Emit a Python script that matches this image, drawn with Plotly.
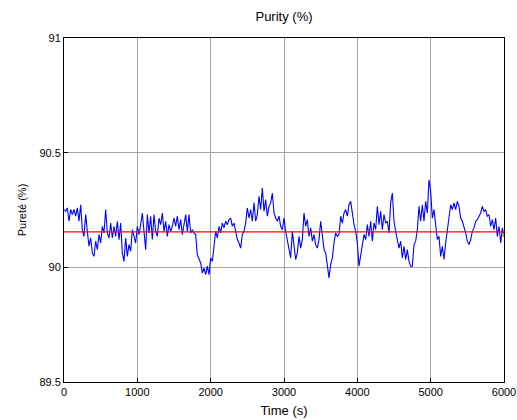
import numpy as np
import plotly.graph_objects as go

purity = [
    90.252, 90.244, 90.259, 90.201, 90.252, 90.230, 90.252, 90.223, 90.259, 90.201,
    90.273, 90.164, 90.135, 90.230, 90.157, 90.092, 90.128, 90.063, 90.048, 90.114,
    90.077, 90.143, 90.106, 90.179, 90.150, 90.252, 90.150, 90.128, 90.193, 90.128,
    90.179, 90.135, 90.201, 90.121, 90.193, 90.063, 90.026, 90.128, 90.048, 90.099,
    90.070, 90.164, 90.135, 90.106, 90.179, 90.143, 90.186, 90.237, 90.157, 90.077,
    90.230, 90.150, 90.223, 90.121, 90.230, 90.157, 90.135, 90.215, 90.186, 90.237,
    90.157, 90.201, 90.135, 90.186, 90.157, 90.179, 90.215, 90.179, 90.223, 90.164,
    90.208, 90.143, 90.186, 90.230, 90.157, 90.230, 90.150, 90.164, 90.150, 90.143,
    90.055, 90.034, 90.019, 89.975, 89.997, 89.968, 90.005, 89.968, 90.041, 90.026,
    90.084, 90.157, 90.128, 90.179, 90.150, 90.193, 90.172, 90.201, 90.186, 90.208,
    90.215, 90.179, 90.193, 90.157, 90.121, 90.106, 90.084, 90.143, 90.157, 90.193,
    90.259, 90.215, 90.252, 90.201, 90.281, 90.201, 90.230, 90.310, 90.252, 90.346,
    90.244, 90.295, 90.223, 90.266, 90.281, 90.324, 90.237, 90.215, 90.201, 90.223,
    90.179, 90.164,
    90.215, 90.157, 90.121, 90.077, 90.041, 90.157, 90.099, 90.034, 90.063, 90.135,
    90.084, 90.121, 90.237, 90.179, 90.208, 90.135, 90.172, 90.114, 90.143, 90.099,
    90.084, 90.121, 90.201, 90.135, 90.077, 90.063, 90.012, 89.954, 90.012, 90.041,
    90.106, 90.150, 90.135, 90.143, 90.223, 90.193, 90.237, 90.252, 90.223, 90.273,
    90.288, 90.223, 90.186, 90.157, 90.106, 90.005, 90.055, 90.114, 90.143, 90.121,
    90.186, 90.135, 90.201, 90.114, 90.193, 90.164, 90.266, 90.186, 90.244, 90.164,
    90.230, 90.193, 90.201, 90.150, 90.281, 90.324, 90.201, 90.157, 90.121, 90.084,
    90.114, 90.041, 90.092, 90.034, 90.077, 90.026, 90.005, 90.005, 90.099, 90.114,
    90.164, 90.266, 90.201, 90.273, 90.201, 90.288, 90.237, 90.382, 90.332, 90.215,
    90.252, 90.179, 90.121, 90.135, 90.048, 90.092, 90.034, 90.106, 90.164, 90.215,
    90.273, 90.252, 90.281, 90.252, 90.288, 90.266, 90.215, 90.201, 90.179, 90.150,
    90.114, 90.099, 90.121, 90.157, 90.172, 90.201, 90.208, 90.223, 90.237, 90.266,
    90.244, 90.252, 90.223, 90.230, 90.179, 90.208, 90.164, 90.215, 90.135, 90.179,
    90.106, 90.172, 90.135,
]
t_start, t_end = 0, 6000
time = np.linspace(t_start, t_end, len(purity))
reference_level = 90.155
end_marker_value = 90.14

x_ticks = [0, 1000, 2000, 3000, 4000, 5000, 6000]
y_ticks = [89.5, 90, 90.5, 91]
y_tick_labels = ["89.5", "90", "90.5", "91"]

fig = go.Figure()
fig.add_trace(go.Scatter(x=time, y=purity, mode="lines",
                         line=dict(color="#0000ff", width=1.1), showlegend=False))
fig.add_trace(go.Scatter(x=[t_start, t_end], y=[reference_level, reference_level], mode="lines",
                         line=dict(color="#ff0000", width=1.3), showlegend=False))
fig.add_trace(go.Scatter(x=[t_end], y=[end_marker_value], mode="markers",
                         marker=dict(color="#ff8c00", size=4), showlegend=False))

font = dict(family="Liberation Sans, Arial, sans-serif", color="#000000")
axis_common = dict(showgrid=True, gridcolor="#a3a3a3", gridwidth=1, showline=True,
                   linecolor="#000000", linewidth=1, mirror=True, ticks="inside",
                   ticklen=4, tickcolor="#000000", zeroline=False, automargin=False,
                   tickfont=dict(size=11, **font))
fig.update_layout(
    width=517, height=420,
    margin=dict(l=64, r=13, t=38, b=38, autoexpand=False),
    paper_bgcolor="#ffffff", plot_bgcolor="#ffffff",
    title=dict(text="Purity (%)", x=0.5, xanchor="center", xref="paper",
               y=1, yref="container", yanchor="top", pad=dict(t=12),
               font=dict(size=13, **font)),
    xaxis=dict(range=[0, 6000], tickvals=x_ticks,
               title=dict(text="Time (s)", font=dict(size=13, **font), standoff=8),
               **axis_common),
    yaxis=dict(range=[89.5, 91], tickvals=y_ticks, ticktext=y_tick_labels,
               title=dict(text="Pureté (%)", font=dict(size=11, **font), standoff=10),
               **axis_common),
)
fig.write_html("out.html", config={"displayModeBar": False},
               post_script="document.body.style.margin='0px';document.body.style.overflow='hidden';")
